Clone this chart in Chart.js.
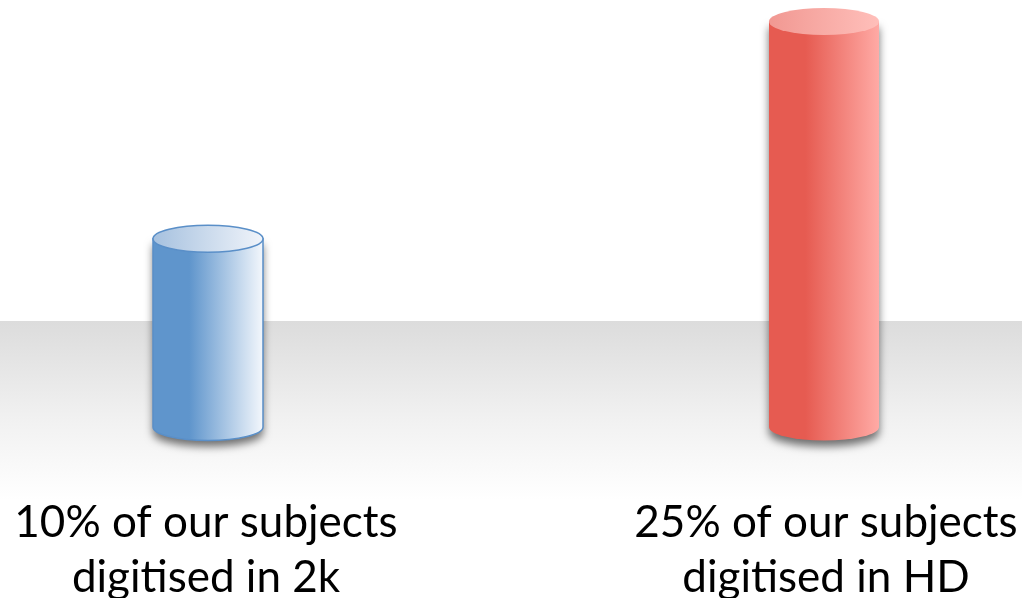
<!DOCTYPE html>
<html>
<head>
<meta charset="utf-8">
<style>
  html, body { margin: 0; padding: 0; background: #ffffff; }
  #wrap { width: 1022px; height: 598px; position: relative; }
</style>
<script src="https://cdn.jsdelivr.net/npm/chart.js@4.4.1/dist/chart.umd.min.js"></script>
</head>
<body>
<div id="wrap"><canvas id="c" width="1022" height="598"></canvas></div>
<script>
// ---- data ----
const categories = ["10% of our subjects digitised in 2k", "25% of our subjects digitised in HD"];
const labelLines = [["10% of our subjects", "digitised in 2k"], ["25% of our subjects", "digitised in HD"]];
const values = [10, 25];
const sideColors = [["#5f95cc", "#f3f7fc"], ["#e65b51", "#ffaaa5"]];
const topColors = [["#a6c1df", "#f0f4fa"], ["#f19892", "#ffbfba"]];
const outlineColors = ["#5a8fc8", null];

const floorPlugin = {
  id: 'floor',
  beforeDraw(chart) {
    const ctx = chart.ctx;
    ctx.save();
    ctx.fillStyle = '#ffffff';
    ctx.fillRect(0, 0, chart.width, chart.height);
    const g = ctx.createLinearGradient(0, 321, 0, 500);
    g.addColorStop(0, '#dcdcdc');
    g.addColorStop(0.55, '#f1f1f1');
    g.addColorStop(1, '#ffffff');
    ctx.fillStyle = g;
    ctx.fillRect(0, 321, chart.width, 180);
    ctx.restore();
  }
};

const cylinderPlugin = {
  id: 'cylinders',
  beforeDatasetsDraw(chart) {
    const ctx = chart.ctx;
    const meta = chart.getDatasetMeta(0);
    meta.data.forEach((bar, i) => {
      const p = bar.getProps(['x', 'y', 'base', 'width'], true);
      const rx = p.width / 2, ry = 13.5;
      const x = p.x, top = p.y, bot = p.base;
      ctx.save();
      // body
      ctx.beginPath();
      ctx.moveTo(x - rx, top);
      ctx.lineTo(x - rx, bot);
      ctx.ellipse(x, bot, rx, ry, 0, Math.PI, 0, true);
      ctx.lineTo(x + rx, top);
      ctx.closePath();
      const g = ctx.createLinearGradient(x - rx, 0, x + rx, 0);
      g.addColorStop(0, sideColors[i][0]);
      g.addColorStop(0.33, sideColors[i][0]);
      g.addColorStop(1, sideColors[i][1]);
      ctx.fillStyle = g;
      ctx.shadowColor = 'rgba(0,0,0,0.55)';
      ctx.shadowBlur = 8;
      ctx.shadowOffsetY = 6;
      ctx.fill();
      ctx.shadowColor = 'transparent';
      if (outlineColors[i]) {
        ctx.strokeStyle = outlineColors[i];
        ctx.lineWidth = 1.5;
        ctx.stroke();
      }
      // top
      ctx.beginPath();
      ctx.ellipse(x, top, rx, ry, 0, 0, Math.PI * 2);
      const tg = ctx.createLinearGradient(x - rx, 0, x + rx, 0);
      tg.addColorStop(0, topColors[i][0]);
      tg.addColorStop(1, topColors[i][1]);
      ctx.fillStyle = tg;
      ctx.fill();
      if (outlineColors[i]) {
        ctx.strokeStyle = outlineColors[i];
        ctx.lineWidth = 1.5;
        ctx.stroke();
      }
      ctx.restore();
      // labels
      ctx.save();
      ctx.fillStyle = '#000000';
      ctx.font = '44px Lato, "Open Sans", sans-serif';
      ctx.textAlign = 'center';
      ctx.textBaseline = 'alphabetic';
      labelLines[i].forEach((ln, k) => {
        ctx.fillText(ln, x + (i === 0 ? -2 : 2), 537 + k * 55);
      });
      ctx.restore();
    });
    return false;
  }
};

new Chart(document.getElementById('c'), {
  type: 'bar',
  data: {
    labels: categories,
    datasets: [{
      data: values,
      base: -3,
      backgroundColor: sideColors.map(c => c[0]),
      borderWidth: 0,
      barThickness: 110,
      clip: false
    }]
  },
  options: {
    responsive: false,
    animation: false,
    events: [],
    layout: { padding: { left: 208, right: 198, top: 7, bottom: 171 } },
    plugins: { legend: { display: false }, tooltip: { enabled: false } },
    scales: {
      x: { display: false, offset: false },
      y: { display: false, min: -3, max: 26 }
    }
  },
  plugins: [floorPlugin, cylinderPlugin]
});
</script>
</body>
</html>
